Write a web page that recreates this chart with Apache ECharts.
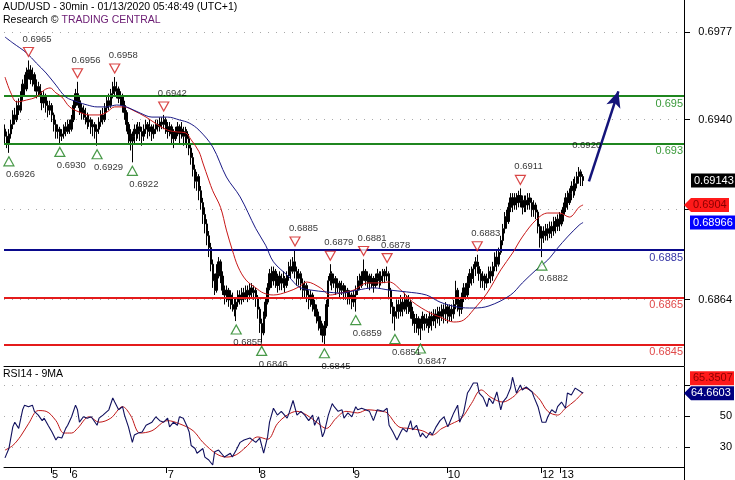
<!DOCTYPE html>
<html><head><meta charset="utf-8">
<script src="https://cdn.jsdelivr.net/npm/echarts@6/dist/echarts.min.js"></script>
<style>html,body{margin:0;padding:0;background:#fff}#c{width:735px;height:480px}</style>
</head><body><div id="c"></div>
<script>
// ---------- DATA (prices stored as price x 10000) ----------
const SCALE = 10000;
const firstOpen = 6936;
const closes = [
6933,6930,6934,6938,6942,6940,6946,6944,6950,6955,
6953,6960,6961,6957,6959,6955,6952,6954,6950,6947,
6950,6946,6944,6946,6942,6938,6935,6936,6933,6934,
6937,6935,6938,6936,6940,6946,6951,6948,6945,6943,
6944,6941,6939,6940,6937,6938,6935,6936,6939,6942,
6940,6945,6948,6946,6951,6954,6952,6953,6949,6950,
6946,6943,6938,6934,6931,6933,6936,6934,6937,6935,
6933,6936,6938,6935,6937,6934,6936,6938,6937,6939,
6938,6940,6937,6935,6937,6934,6932,6935,6937,6934,
6936,6933,6935,6932,6928,6924,6919,6914,6916,6910,
6905,6900,6896,6891,6886,6879,6872,6868,6875,6880,
6874,6868,6866,6868,6864,6866,6862,6860,6863,6866,
6864,6867,6865,6868,6866,6869,6867,6868,6865,6860,
6854,6850,6857,6863,6869,6875,6872,6876,6873,6870,
6874,6871,6873,6870,6874,6878,6876,6880,6876,6873,
6875,6871,6868,6870,6866,6864,6866,6862,6860,6857,
6855,6852,6849,6853,6862,6872,6875,6871,6873,6869,
6871,6868,6870,6867,6868,6865,6866,6863,6866,6868,
6872,6870,6874,6876,6872,6874,6871,6873,6870,6873,
6875,6872,6874,6876,6874,6875,6868,6861,6857,6859,
6862,6859,6863,6860,6864,6861,6863,6859,6856,6854,
6856,6852,6854,6857,6854,6856,6853,6857,6855,6858,
6856,6859,6857,6860,6858,6861,6857,6860,6858,6862,
6868,6862,6860,6865,6869,6866,6871,6875,6873,6877,
6880,6878,6875,6872,6874,6871,6873,6876,6874,6878,
6882,6879,6884,6889,6894,6899,6897,6903,6907,6904,
6907,6905,6908,6906,6903,6906,6904,6907,6905,6902,
6904,6901,6895,6890,6893,6891,6894,6892,6895,6893,
6897,6895,6898,6896,6900,6903,6907,6905,6909,6912,
6910,6913,6916,6918,6916,6914.3];
const highs = [
6938,6935,6936,6940,6944,6945,6948,6949,6952,6957,
6959,6962,6965,6963,6962,6960,6957,6956,6955,6952,
6952,6951,6948,6948,6947,6943,6940,6938,6937,6936,
6938,6939,6940,6940,6942,6948,6953,6956,6950,6947,
6946,6945,6943,6942,6941,6940,6939,6938,6941,6944,
6945,6947,6950,6951,6953,6956,6958,6956,6954,6952,
6951,6948,6944,6939,6936,6935,6938,6938,6939,6939,
6937,6938,6940,6939,6940,6938,6938,6940,6940,6941,
6941,6942,6941,6939,6939,6938,6936,6937,6939,6938,
6939,6937,6937,6936,6934,6930,6926,6921,6918,6917,
6912,6907,6903,6898,6893,6888,6881,6875,6879,6882,
6881,6876,6870,6870,6869,6868,6867,6865,6865,6868,
6868,6869,6869,6870,6870,6871,6871,6870,6869,6866,
6861,6856,6859,6865,6871,6877,6878,6878,6877,6875,
6876,6875,6876,6874,6876,6880,6881,6882,6885,6878,
6877,6876,6873,6872,6871,6868,6868,6867,6864,6862,
6859,6857,6854,6855,6864,6874,6879,6876,6875,6874,
6873,6872,6872,6871,6870,6869,6868,6867,6868,6870,
6874,6875,6876,6881,6877,6876,6875,6875,6874,6875,
6877,6876,6876,6877,6877,6878,6876,6869,6863,6861,
6864,6864,6866,6865,6867,6866,6866,6864,6861,6858,
6858,6857,6856,6859,6858,6858,6857,6859,6859,6860,
6860,6861,6861,6862,6862,6863,6862,6862,6862,6864,
6872,6869,6864,6867,6871,6871,6874,6877,6878,6879,
6882,6883,6880,6877,6876,6875,6875,6878,6878,6880,
6884,6885,6886,6891,6896,6901,6902,6905,6909,6909,
6909,6909,6910,6911,6908,6908,6908,6909,6909,6907,
6906,6905,6902,6896,6895,6895,6896,6896,6897,6897,
6899,6899,6900,6901,6902,6905,6909,6910,6911,6914,
6915,6916,6918,6920,6919,6917];
const lows = [
6930,6928,6926,6932,6936,6938,6939,6942,6943,6948,
6950,6952,6957,6955,6954,6952,6949,6950,6947,6944,
6945,6943,6941,6942,6939,6935,6932,6932,6930,6931,
6932,6933,6934,6934,6935,6939,6945,6946,6942,6940,
6940,6938,6936,6937,6934,6933,6932,6929,6934,6937,
6938,6939,6943,6944,6945,6949,6950,6949,6947,6946,
6943,6940,6935,6930,6927,6922,6930,6931,6932,6931,
6929,6931,6934,6932,6933,6931,6932,6934,6935,6935,
6936,6936,6934,6932,6933,6930,6928,6931,6933,6930,
6932,6929,6930,6928,6925,6921,6916,6911,6910,6906,
6902,6896,6892,6887,6882,6876,6869,6866,6867,6873,
6871,6866,6862,6863,6861,6860,6859,6857,6855,6861,
6862,6862,6863,6864,6863,6864,6865,6864,6861,6856,
6850,6846,6849,6856,6862,6868,6869,6870,6869,6867,
6868,6868,6869,6867,6869,6872,6873,6875,6873,6870,
6870,6868,6865,6865,6863,6860,6861,6859,6857,6854,
6851,6849,6846,6845,6852,6861,6870,6868,6869,6866,
6867,6865,6866,6864,6864,6862,6862,6860,6861,6859,
6866,6868,6869,6872,6870,6869,6868,6869,6867,6869,
6870,6869,6870,6871,6871,6872,6865,6858,6854,6851,
6856,6856,6857,6857,6859,6858,6858,6856,6853,6850,
6850,6849,6847,6851,6851,6852,6850,6852,6851,6853,
6852,6854,6853,6855,6854,6855,6854,6855,6855,6856,
6860,6859,6857,6858,6863,6864,6865,6869,6870,6871,
6874,6875,6872,6869,6869,6868,6869,6871,6871,6872,
6876,6876,6878,6883,6887,6892,6894,6896,6901,6901,
6902,6902,6903,6903,6900,6901,6901,6902,6902,6899,
6899,6898,6892,6886,6882,6888,6889,6889,6890,6890,
6891,6892,6893,6893,6895,6897,6901,6902,6904,6906,
6907,6908,6911,6913,6912,6912];

// moving averages (bar index -> price x 10000)
const maRedIdx = [0,3,6,11,16,20,23,26,29,33,38,43,48,52,56,61,65,72,78,83,88,92,95,99,101,104,106,110,113,116,119,123,128,132,137,144,150,154,161,166,171,178,185,191,196,202,208,217,222,229,234,239,246,253,259,264,271,277,283,288,293,295];
const maRedVal = [6958,6951.3,6947.5,6948.3,6949.6,6952.5,6953.4,6951.3,6949.6,6945.4,6943.2,6942,6942,6943.2,6945.4,6945.4,6944.1,6941.1,6937.8,6935.6,6934.8,6934.5,6931.5,6926.5,6921.7,6914.5,6910,6903,6893.4,6885,6877.8,6872.3,6869,6866.8,6866,6867.3,6869.4,6871.5,6869,6866,6866.8,6868.1,6871.1,6871.1,6871.5,6868.1,6863.1,6858.4,6856.7,6854.6,6855.4,6859.7,6866.8,6876.6,6883.7,6890.5,6897.7,6900.6,6900.6,6898.9,6903.1,6904];
const maBlueIdx = [0,4,11,16,21,26,31,37,42,47,52,57,62,69,75,83,89,94,99,106,113,120,128,133,137,145,150,156,164,171,180,188,196,205,215,222,231,239,247,258,264,271,277,282,287,293,295];
const maBlueVal = [6974.9,6972.4,6968.2,6963.9,6959.7,6954.6,6949.6,6947.5,6946.2,6945.4,6945.4,6946.2,6945.4,6942.8,6941.1,6941.1,6939.9,6938.6,6935.6,6928.5,6915.8,6907.4,6894,6887,6880,6873.6,6869.4,6868.1,6867.3,6866.8,6868.1,6869,6868.1,6867.3,6866,6863,6860.9,6860.5,6861.4,6866,6871.1,6876.6,6880.8,6885.8,6890.5,6895.5,6896.6];

// RSI14 and its 9MA (bar index -> value)
const rsiIdx = [0,2,4,5,7,9,10,12,14,15,17,19,20,22,24,26,27,29,31,32,34,36,37,38,40,42,44,47,48,50,53,55,56,58,60,61,63,65,66,68,70,72,75,77,79,81,83,84,86,88,89,91,93,94,95,97,98,101,102,104,106,107,109,111,112,115,116,118,120,122,125,128,130,132,134,135,137,139,141,144,145,147,149,151,153,155,157,158,160,162,163,165,167,168,170,172,173,175,177,179,180,182,184,186,188,190,191,193,195,196,198,200,202,203,205,207,208,210,212,213,215,217,218,220,222,224,226,227,229,231,232,234,236,237,239,241,242,244,246,247,249,251,253,254,256,258,259,261,263,264,266,269,270,272,274,276,277,279,281,282,284,286,287,289,291,292,295];
const rsiVal = [23,29,43,46,42,54,57,56,57,53,50.6,47,48.6,44,39.7,34.5,36.5,35.8,42,44,49.5,57,54,46,49.5,48.6,49.5,44,48.6,50.6,54,61.6,59,54,56,50.6,43,33,37.7,39,39.7,44,46,49.5,47,46,48.6,43,46,44,49.5,48.6,43,39.7,31,29,26,29,23.5,21.6,18.4,27,28,25,23.5,26,23.5,28,33,34.5,35.8,33,35.8,26,36.5,46,55,50.6,53,48.6,52,60,50.6,53,50.6,47,50.6,44,49.5,36.5,39.7,50.6,58,56,53,54,48.6,52,49.5,56,54,55,54,53,47,54,55,53,55,44,39.7,34.5,39.7,42,39.7,47,41,44,36.5,39,35.8,39.7,37.7,43,47,49.5,43,46,52,57,46,52,64.8,66.8,71.3,71.3,64.8,62,56,61.6,58,65.5,54,59,62,68,75,64.8,70,66.8,68.7,65.5,62,56,46,46,49.5,54,52,56,59,55,64.8,63.5,68,68.7,64.66];
const rsiMaIdx = [0,4,8,12,17,21,26,30,34,37,43,48,54,60,64,69,75,83,89,96,101,108,113,118,123,129,134,139,144,149,154,159,164,169,174,180,185,192,195,201,206,213,218,223,228,233,238,243,248,254,259,265,272,277,282,286,291,295];
const rsiMaVal = [28,31,37,45,53.5,53,47,39,39,42,49.5,46,48.6,56,50.6,39,40.5,47,45,40.5,33,25.5,23.5,25,30,36.5,35,45,50.6,53,50.6,46,42,48.6,53,52,54,53,52,43,42,40.5,37.7,42,45,48.6,58,66.8,62,59,62,68,62,53,50.6,55,60,65.35];

// annotations
const highMarkIdx = [12,37,56,81,148,166,183,195,241,263];
const highMarkVal = [0.6965,0.6956,0.6958,0.6942,0.6885,0.6879,0.6881,0.6878,0.6883,0.6911];
const lowMarkIdx = [2,28,47,65,118,131,163,179,199,212,274];
const lowMarkVal = [0.6926,0.6930,0.6929,0.6922,0.6855,0.6846,0.6845,0.6859,0.6851,0.6847,0.6882];
const pendingHighIdx = [293];
const pendingHighVal = [0.6920];
const levelValues = [0.6950,0.6930,0.6885,0.6865,0.6845];
const levelLabels = ['0.695','0.693','0.6885','0.6865','0.6845'];
const arrowFrom = [298, 0.6914];
const arrowTo = [313, 0.6952];

// axes / ticks
const slotCount = 347;
const dayTickIndex = [24,34,83,130,178,226,274,284];
const dayTickLabel = ['5','6','7','8','9','10','12','13'];
const priceTicks = [0.6864,0.6902,0.6940,0.6977];
const priceTickLabels = [0.6864,0.6940,0.6977];
const rsiTicks = [30,50,70];
const rsiTickLabels = [30,50];

// last values shown on the right axis
const lastClose = 0.69143, lastClosText = '0.69143';
const maRedLast = 0.6904, maRedLastText = '0.6904';
const maBlueLast = 0.68966, maBlueLastText = '0.68966';
const rsiLast = 64.6603, rsiLastText = '64.6603';
const rsiMaLast = 65.3507, rsiMaLastText = '65.3507';

const titleText = 'AUD/USD - 30min - 01/13/2020 05:48:49 (UTC+1)';

// ---------- CHART ----------
const FONT = '"Liberation Sans", Arial, sans-serif';
const P = v => v / SCALE;
const cats = Array.from({length: slotCount}, (_, i) => 'b' + i);
const ohlc = closes.map((c, i) => [P(i === 0 ? firstOpen : closes[i - 1]), P(c), P(lows[i]), P(highs[i])]);
const isDay = (i) => dayTickIndex.indexOf(i) >= 0;

const levelColors = ['#1f861f','#1f861f','#0a0a8c','#e41b1b','#e41b1b'];
const levelTextColors = ['#3a9a3a','#3a9a3a','#3535a5','#e04a4a','#e04a4a'];

const chart = echarts.init(document.getElementById('c'), null, {renderer: 'canvas'});
const option = {
  animation: false,
  backgroundColor: '#fff',
  textStyle: {fontFamily: FONT},
  title: [
    {text: titleText, left: 3, top: 1, padding: 0, itemGap: 0,
     textStyle: {fontSize: 10.5, fontWeight: 'normal', color: '#000', lineHeight: 13, fontFamily: FONT},
     subtext: '{a|Research © }{b|TRADING CENTRAL}',
     subtextStyle: {fontSize: 10.5, lineHeight: 13, color: '#000', fontFamily: FONT,
       rich: {a: {color: '#000', fontSize: 10.5, fontFamily: FONT}, b: {color: '#6a1a72', fontSize: 10.5, fontFamily: FONT}}}},
    {text: 'RSI14 - 9MA', left: 3, top: 369, padding: 0,
     textStyle: {fontSize: 10.5, fontWeight: 'normal', color: '#000', fontFamily: FONT}}
  ],
  grid: [
    {left: 4, right: 51, top: 0, height: 366},
    {left: 4, right: 51, top: 367, height: 100}
  ],
  xAxis: [
    {type: 'category', gridIndex: 0, data: cats, boundaryGap: true,
     axisLine: {show: true, onZero: false, lineStyle: {color: '#000', width: 1}},
     axisTick: {show: false}, axisLabel: {show: false}, splitLine: {show: false}},
    {type: 'category', gridIndex: 1, data: cats, boundaryGap: true,
     axisLine: {show: true, onZero: false, lineStyle: {color: '#000', width: 1}},
     axisTick: {show: true, interval: isDay, length: 6, lineStyle: {color: '#000'}},
     axisLabel: {show: true, interval: isDay, align: 'left', margin: 2, fontSize: 11, color: '#000',
       formatter: (v, i) => dayTickLabel[dayTickIndex.indexOf(i)] || ''},
     splitLine: {show: false}}
  ],
  yAxis: [
    {type: 'value', gridIndex: 0, position: 'right', min: 0.6836028, max: 0.6990524,
     axisLine: {show: true, onZero: false, lineStyle: {color: '#000'}},
     axisTick: {show: true, customValues: priceTicks, length: 6, lineStyle: {color: '#000'}},
     axisLabel: {show: true, customValues: priceTickLabels, formatter: v => v.toFixed(4),
       align: 'right', margin: 48, fontSize: 11, color: '#000'},
     splitLine: {show: false}},
    {type: 'value', gridIndex: 1, position: 'right', min: 17.1, max: 81.6,
     axisLine: {show: true, onZero: false, lineStyle: {color: '#000'}},
     axisTick: {show: true, customValues: rsiTicks, length: 6, lineStyle: {color: '#000'}},
     axisLabel: {show: true, customValues: rsiTickLabels, formatter: v => String(v),
       align: 'right', margin: 48, fontSize: 11, color: '#000'},
     splitLine: {show: false}}
  ],
  series: [
    {name: 'price', type: 'candlestick', xAxisIndex: 0, yAxisIndex: 0, data: ohlc, z: 2,
     barWidth: '92%',
     itemStyle: {color: '#000', color0: '#000', borderColor: '#000', borderColor0: '#000', borderWidth: 1},
     markLine: {silent: true, symbol: 'none', z: 3, animation: false, precision: 6,
       data: levelValues.map((v, k) => ({yAxis: v,
         lineStyle: {color: levelColors[k], width: 2.2, type: 'solid'},
         label: {show: true, position: 'insideEndBottom', distance: [1, 2], formatter: levelLabels[k],
           color: levelTextColors[k], fontSize: 11, fontFamily: FONT}}))}},
    {name: 'maRed', type: 'line', xAxisIndex: 0, yAxisIndex: 0, z: 4, symbol: 'none', smooth: 0.35,
     data: maRedIdx.map((i, k) => [i, P(maRedVal[k])]),
     lineStyle: {color: '#c81818', width: 1},
     markLine: {silent: true, symbol: 'none', z: 1, animation: false, precision: 6,
       data: priceTicks.map(v => ({yAxis: v})),
       lineStyle: {color: '#a8a8a8', width: 1, type: [1, 7]}, label: {show: false}}},
    {name: 'maBlue', type: 'line', xAxisIndex: 0, yAxisIndex: 0, z: 4, symbol: 'none', smooth: 0.35,
     data: maBlueIdx.map((i, k) => [i, P(maBlueVal[k])]),
     lineStyle: {color: '#1a1a86', width: 1},
     markLine: {silent: true, symbol: ['none', 'arrow'], symbolSize: [11, 16], z: 6, animation: false, precision: 6,
       data: [[{coord: arrowFrom}, {coord: arrowTo}]],
       lineStyle: {color: '#14147a', width: 2.5, type: 'solid'}, label: {show: false}}},
    {name: 'highs', type: 'scatter', xAxisIndex: 0, yAxisIndex: 0, z: 7,
     data: highMarkIdx.map((i, k) => [i, highMarkVal[k]]),
     symbol: 'path://M0,0 L10,0 L5,9 Z', symbolSize: [10, 9], symbolOffset: [0, -8.5],
     itemStyle: {color: '#fff', borderColor: '#d01818', borderWidth: 1.2},
     label: {show: true, position: 'top', distance: 3, align: 'left', offset: [-6, 0],
       formatter: p => p.value[1].toFixed(4), fontSize: 9.5, color: '#000', fontFamily: FONT}},
    {name: 'pendingHigh', type: 'scatter', xAxisIndex: 0, yAxisIndex: 0, z: 7,
     data: pendingHighIdx.map((i, k) => [i, pendingHighVal[k]]),
     symbol: 'rect', symbolSize: [10, 9], symbolOffset: [0, -8.5],
     itemStyle: {color: 'rgba(0,0,0,0)', borderColor: 'rgba(0,0,0,0)'},
     label: {show: true, position: 'top', distance: 3, align: 'left', offset: [-7, 0],
       formatter: p => p.value[1].toFixed(4), fontSize: 9.5, color: '#000', fontFamily: FONT}},
    {name: 'lows', type: 'scatter', xAxisIndex: 0, yAxisIndex: 0, z: 7,
     data: lowMarkIdx.map((i, k) => [i, lowMarkVal[k]]),
     symbol: 'path://M5,0 L10,9 L0,9 Z', symbolSize: [10, 9], symbolOffset: [0, 8.5],
     itemStyle: {color: '#fff', borderColor: '#1a7f1a', borderWidth: 1.2},
     label: {show: true, position: 'bottom', distance: 3, align: 'left', offset: [-3, 0],
       formatter: p => p.value[1].toFixed(4), fontSize: 9.5, color: '#000', fontFamily: FONT}},
    {name: 'rsi', type: 'line', xAxisIndex: 1, yAxisIndex: 1, z: 4, symbol: 'none',
     data: rsiIdx.map((i, k) => [i, rsiVal[k]]),
     lineStyle: {color: '#10105e', width: 1.1},
     markLine: {silent: true, symbol: 'none', z: 1, animation: false, precision: 4,
       data: rsiTicks.map(v => ({yAxis: v})),
       lineStyle: {color: '#a8a8a8', width: 1, type: [1, 7]}, label: {show: false}}},
    {name: 'rsiMa', type: 'line', xAxisIndex: 1, yAxisIndex: 1, z: 3, symbol: 'none', smooth: 0.35,
     data: rsiMaIdx.map((i, k) => [i, rsiMaVal[k]]),
     lineStyle: {color: '#c01818', width: 1}}
  ]
};
chart.setOption(option);

// value tags on the right axis, positioned through the axes' scales
function tag(yc, text, fill, color, arrow, x0, x1) {
  const h = 14;
  const shapeEl = arrow
    ? {type: 'polygon', shape: {points: [[684, yc], [691, yc - h / 2], [x1, yc - h / 2], [x1, yc + h / 2], [691, yc + h / 2]]}, style: {fill}, z: 100}
    : {type: 'rect', shape: {x: x0, y: yc - h / 2, width: x1 - x0, height: h}, style: {fill}, z: 100};
  return [shapeEl, {type: 'text', x: x0 + 3, y: yc, z: 101,
    style: {text, fill: color, font: '11px ' + FONT, verticalAlign: 'middle', textVerticalAlign: 'middle'}}];
}
const yClose = chart.convertToPixel({yAxisIndex: 0}, lastClose);
const yRed = chart.convertToPixel({yAxisIndex: 0}, maRedLast);
const yBlue = chart.convertToPixel({yAxisIndex: 0}, maBlueLast);
const yRsi = chart.convertToPixel({yAxisIndex: 1}, rsiLast);
const graphics = [].concat(
  tag(yClose, lastClosText, '#000', '#fff', false, 691, 735),
  tag(yRed, maRedLastText, '#ff1a1a', '#8a0000', true, 690, 729),
  tag(yBlue, maBlueLastText, '#0000ff', '#fff', false, 690, 735),
  tag(yRsi - 15, rsiMaLastText, '#ff1a1a', '#8a0000', false, 690, 734),
  tag(yRsi, rsiLastText, '#000080', '#fff', true, 688, 734),
  [{type: 'line', shape: {x1: 684.5, y1: 467, x2: 684.5, y2: 480}, style: {stroke: '#000', lineWidth: 1}, z: 100}]
);
chart.setOption({graphic: graphics});
</script>
</body></html>
